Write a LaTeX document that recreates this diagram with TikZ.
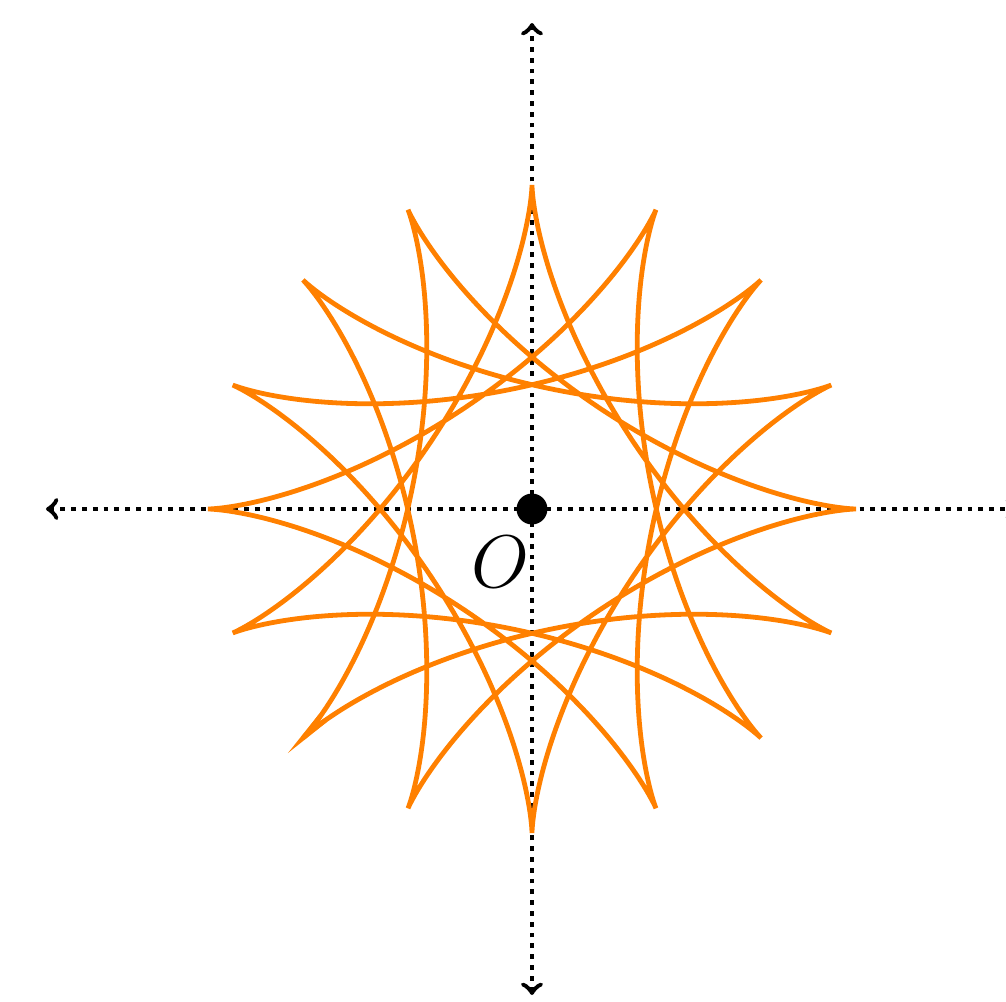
\documentclass[tikz,border=0pt]{standalone}
\begin{document}
\begin{tikzpicture}[x=0.33333pt,y=0.33333pt,
  axis/.style={ultra thick, dotted, <->},
  curve/.style={ultra thick, orange},
  origin/.style={circle, fill=black, inner sep=0pt, minimum size=10.3pt}]
\clip (-532,-492) rectangle (474,509);
\useasboundingbox (-532,-492) rectangle (474,509);
\coordinate (xl) at (-486,0);
\coordinate (xr) at (486,0);
\coordinate (yb) at (0,-486);
\coordinate (yt) at (0,486);
\draw[axis] (xl) -- (xr);
\draw[axis] (yb) -- (yt);
\draw[curve, rotate=225] plot[domain=0:1800, samples=1601, variable=\t]
  ({222.75*cos(\t) + 101.25*cos(2.2*\t)}, {222.75*sin(\t) - 101.25*sin(2.2*\t)});
\begin{scope}[rotate=225]
  \coordinate (ea) at (295.85,3.22);
  \coordinate (ec) at (324,0);
  \coordinate (eb) at (295.85,-3.22);
\end{scope}
\draw[curve, miter limit=12] (ea) -- (ec) -- (eb);
\node[origin] (O) at (0,0) {};
\node (Olabel) at (-32,-53) {\Huge $O$};
\end{tikzpicture}
\end{document}
